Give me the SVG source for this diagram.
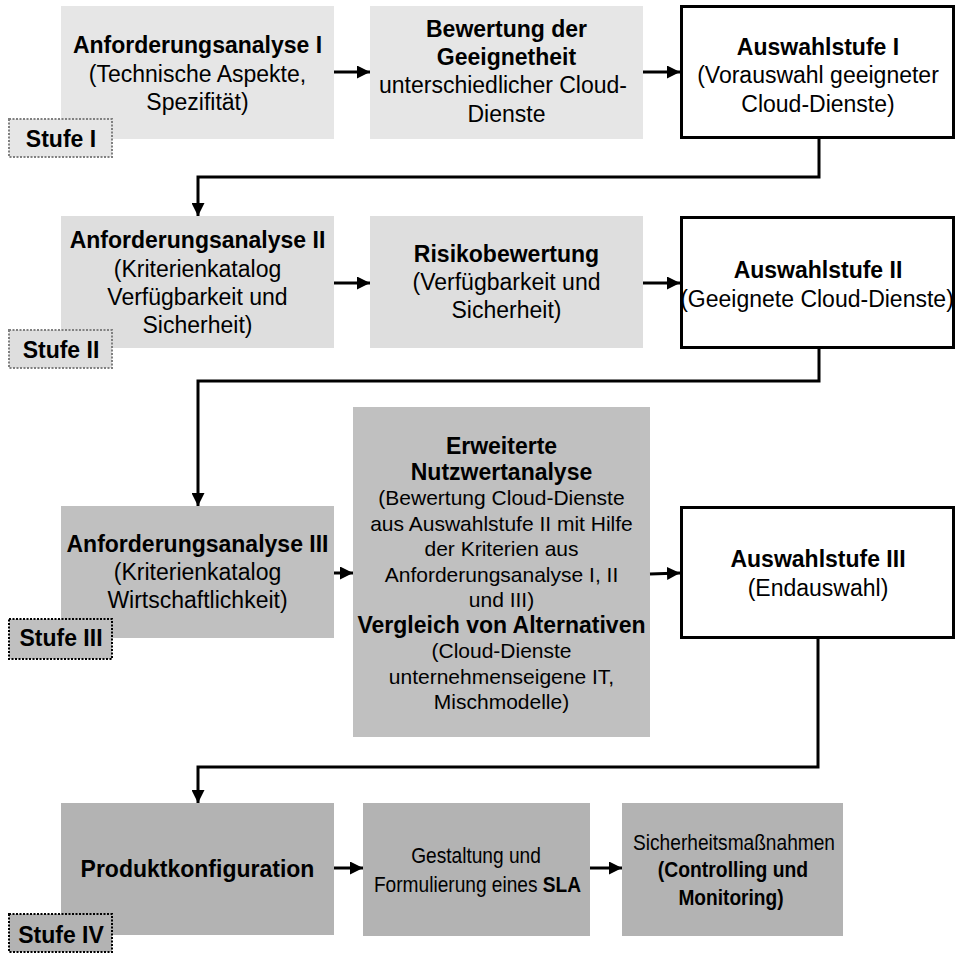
<svg xmlns="http://www.w3.org/2000/svg" width="959" height="953" viewBox="0 0 959 953">
<style>
text{font-family:"Liberation Sans",Arial,sans-serif;font-size:23px;fill:#000;text-anchor:middle}
.b{font-weight:bold}
.s{font-size:21px}
.n{font-size:22.5px}
.r1{fill:#e6e6e6}
.r2{fill:#dedede}
.r3{fill:#c0c0c0}
.r4{fill:#b3b3b3}
.sel{fill:#fff;stroke:#000;stroke-width:3}
.stg{stroke:#808080;stroke-width:2;stroke-dasharray:2 1.5}
.stb{stroke:#000;stroke-width:2;stroke-dasharray:2 1.5}
.c{fill:none;stroke:#000;stroke-width:3}
</style>
<defs>
<marker id="ah" markerUnits="userSpaceOnUse" markerWidth="14" markerHeight="13" refX="13" refY="6.5" orient="auto">
<path d="M0,0 L13,6.5 L0,13 z" fill="#000"/>
</marker>
</defs>

<g id="n-a1"><rect class="r1" x="61" y="6" width="273" height="133"/>
<text x="197.5" y="53" class="b">Anforderungsanalyse I</text>
<text x="197.5" y="81.5">(Technische Aspekte,</text>
<text x="197.5" y="110">Spezifität)</text></g>

<g id="n-b1"><rect class="r1" x="370" y="6" width="273" height="133"/>
<text x="506.5" y="37" class="b">Bewertung der</text>
<text x="506.5" y="65" class="b">Geeignetheit</text>
<text x="503" y="93">unterschiedlicher Cloud-</text>
<text x="506.5" y="122">Dienste</text></g>

<g id="n-c1"><rect class="sel" x="681.5" y="6.5" width="272" height="131"/>
<text x="818" y="55" class="b">Auswahlstufe I</text>
<text x="818" y="83">(Vorauswahl geeigneter</text>
<text x="818" y="112">Cloud-Dienste)</text></g>

<g id="s1"><rect class="r1 stg" x="9" y="119" width="103" height="38"/>
<text x="61" y="147" class="b">Stufe I</text></g>

<g id="n-a2"><rect class="r2" x="61" y="216" width="273" height="132"/>
<text x="197.5" y="248" class="b">Anforderungsanalyse II</text>
<text x="197.5" y="277">(Kriterienkatalog</text>
<text x="197.5" y="305">Verfügbarkeit und</text>
<text x="197.5" y="333">Sicherheit)</text></g>

<g id="n-b2"><rect class="r2" x="370" y="216" width="273" height="132"/>
<text x="506.5" y="262" class="b">Risikobewertung</text>
<text x="506.5" y="290">(Verfügbarkeit und</text>
<text x="506.5" y="318">Sicherheit)</text></g>

<g id="n-c2"><rect class="sel" x="681.5" y="217.5" width="272" height="130"/>
<text x="818" y="278" class="b">Auswahlstufe II</text>
<text x="817" y="307">(Geeignete Cloud-Dienste)</text></g>

<g id="s2"><rect class="r2 stg" x="9" y="330" width="103" height="38"/>
<text x="61" y="358" class="b">Stufe II</text></g>

<g id="n-a3"><rect class="r3" x="61" y="506" width="273" height="132"/>
<text x="197.5" y="552" class="b">Anforderungsanalyse III</text>
<text x="197.5" y="580">(Kriterienkatalog</text>
<text x="197.5" y="608">Wirtschaftlichkeit)</text></g>

<g id="n-b3"><rect class="r3" x="353" y="407" width="297" height="330"/>
<text x="501.5" y="454" class="b">Erweiterte</text>
<text x="501.5" y="479.5" class="b">Nutzwertanalyse</text>
<text x="501.5" y="505" class="s">(Bewertung Cloud-Dienste</text>
<text x="501.5" y="530.5" class="s">aus Auswahlstufe II mit Hilfe</text>
<text x="501.5" y="556" class="s">der Kriterien aus</text>
<text x="501.5" y="581.5" class="s">Anforderungsanalyse I, II</text>
<text x="501.5" y="607" class="s">und III)</text>
<text x="501.5" y="632.5" class="b">Vergleich von Alternativen</text>
<text x="501.5" y="658" class="s">(Cloud-Dienste</text>
<text x="501.5" y="683.5" class="s">unternehmenseigene IT,</text>
<text x="501.5" y="709" class="s">Mischmodelle)</text></g>

<g id="n-c3"><rect class="sel" x="681.5" y="507.5" width="272" height="130"/>
<text x="818" y="567" class="b">Auswahlstufe III</text>
<text x="818" y="596">(Endauswahl)</text></g>

<g id="s3"><rect class="r3 stb" x="9" y="619" width="103" height="40"/>
<text x="61" y="646" class="b">Stufe III</text></g>

<g id="n-a4"><rect class="r4" x="61" y="803" width="273" height="132"/>
<text x="197.5" y="877" class="b">Produktkonfiguration</text></g>

<g id="n-b4"><rect class="r4" x="363" y="803" width="227" height="133"/>
<text class="n" transform="matrix(0.85 0 0 1 476 863)" x="0" y="0">Gestaltung und</text>
<text class="n" transform="matrix(0.85 0 0 1 477.5 892)" x="0" y="0">Formulierung eines <tspan class="b">SLA</tspan></text></g>

<g id="n-c4"><rect class="r4" x="622" y="803" width="221" height="133"/>
<text class="n" transform="matrix(0.85 0 0 1 734 850)" x="0" y="0">Sicherheitsmaßnahmen</text>
<text class="n b" transform="matrix(0.86 0 0 1 733 877)" x="0" y="0">(Controlling und</text>
<text class="n b" transform="matrix(0.85 0 0 1 731 905)" x="0" y="0">Monitoring)</text></g>

<g id="s4"><rect class="r4 stb" x="9" y="914" width="103" height="38"/>
<text x="61" y="943" class="b">Stufe IV</text></g>

<g id="connectors">
<line class="c" x1="334" y1="72" x2="370" y2="72" marker-end="url(#ah)"/>
<line class="c" x1="643" y1="72" x2="680" y2="72" marker-end="url(#ah)"/>
<polyline class="c" points="819,139 819,177 198,177 198,216" marker-end="url(#ah)"/>
<line class="c" x1="334" y1="283" x2="370" y2="283" marker-end="url(#ah)"/>
<line class="c" x1="643" y1="283" x2="680" y2="283" marker-end="url(#ah)"/>
<polyline class="c" points="819,349 819,381 198,381 198,506" marker-end="url(#ah)"/>
<line class="c" x1="334" y1="573" x2="353" y2="573" marker-end="url(#ah)"/>
<line class="c" x1="650" y1="574" x2="680" y2="573" marker-end="url(#ah)"/>
<polyline class="c" points="818,638 818,767 198,767 198,803" marker-end="url(#ah)"/>
<line class="c" x1="334" y1="868" x2="363" y2="868" marker-end="url(#ah)"/>
<line class="c" x1="590" y1="868" x2="622" y2="868" marker-end="url(#ah)"/>
</g>
</svg>
